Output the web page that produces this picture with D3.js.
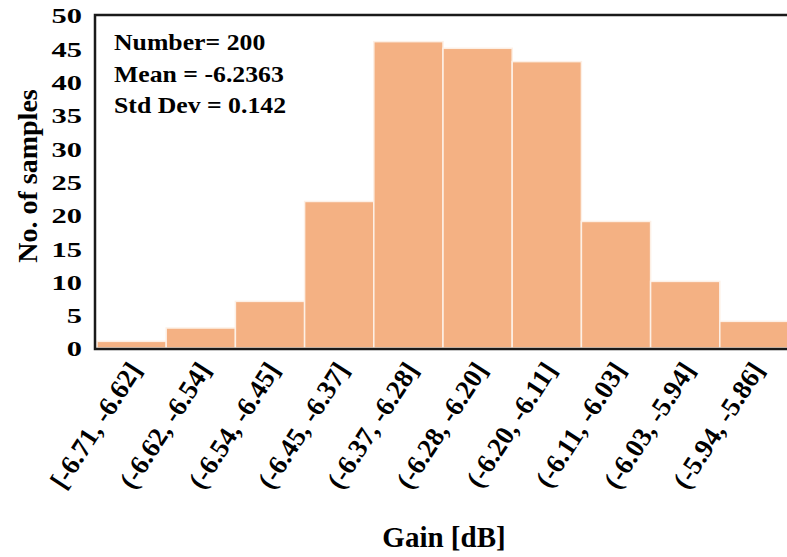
<!DOCTYPE html>
<html>
<head>
<meta charset="utf-8">
<script src="https://cdn.jsdelivr.net/npm/d3@7"></script>
<style>
  body { margin: 0; background: #fff; }
  text { font-family: "Liberation Serif", "Times New Roman", serif; font-weight: bold; fill: #000; }
</style>
</head>
<body>
<div class="chart"></div>
<script>
var bins = ["[-6.71, -6.62]", "(-6.62, -6.54]", "(-6.54, -6.45]", "(-6.45, -6.37]", "(-6.37, -6.28]",
            "(-6.28, -6.20]", "(-6.20, -6.11]", "(-6.11, -6.03]", "(-6.03, -5.94]", "(-5.94, -5.86]"];
var counts = [1, 3, 7, 22, 46, 45, 43, 19, 10, 4];
var yTicks = [0, 5, 10, 15, 20, 25, 30, 35, 40, 45, 50];
var statLines = ["Number= 200", "Mean = -6.2363", "Std Dev = 0.142"];

var svgWidth = 787;
var svgHeight = 557;

var margin = {top: 15, left: 95};
var chartHeight = 333;
var chartWidth = 694;

var svg = d3.select(".chart")
  .append("svg")
  .attr("width", svgWidth)
  .attr("height", svgHeight);

var chart = svg.append("g")
  .attr("transform", `translate(${margin.left}, ${margin.top})`);

var x = d3.scaleBand().domain(bins).range([2, chartWidth]).padding(0);
var y = d3.scaleLinear().domain([0, 50]).range([chartHeight, 0]);

// bars
chart.selectAll("rect.bar")
  .data(counts)
  .enter().append("rect")
    .attr("class", "bar")
    .attr("x", function(d, i) { return x(bins[i]); })
    .attr("y", function(d) { return y(d); })
    .attr("width", x.bandwidth())
    .attr("height", function(d) { return y(0) - y(d); })
    .attr("fill", "#f4b183")
    .attr("stroke", "#fdf0e6")
    .attr("stroke-width", 1.5);

// frame (no right edge, the plot runs off the page)
chart.append("path")
  .attr("d", `M${chartWidth + 10},0 H0 V${chartHeight + 1} H${chartWidth + 10}`)
  .attr("fill", "none")
  .attr("stroke", "#1a1a1a")
  .attr("stroke-width", 2.5);

// y axis - the tick digits are drawn wide in the original
var leftAxis = d3.axisLeft(y).tickValues(yTicks).tickSize(0);
var gy = chart.append("g").call(leftAxis);
gy.select(".domain").remove();
gy.selectAll("text")
  .style("font-size", "21px")
  .style("font-family", "Liberation Serif, serif")
  .style("font-weight", "bold")
  .attr("x", 0)
  .attr("dy", "0.38em")
  .attr("transform", "translate(-13, 0) scale(1.45, 1)");

// x axis labels, rotated
var bottomAxis = d3.axisBottom(x).tickSize(0).tickPadding(0);
var gx = chart.append("g")
  .attr("transform", `translate(0, ${chartHeight})`)
  .call(bottomAxis);
gx.select(".domain").remove();
gx.selectAll("text")
  .style("font-size", "27px")
  .style("font-family", "Liberation Serif, serif")
  .style("font-weight", "bold")
  .attr("text-anchor", "end")
  .attr("dy", null)
  .attr("y", 0)
  .attr("transform", "translate(11, 22) rotate(-57)");

// stats box
chart.append("g").selectAll("text")
  .data(statLines)
  .enter().append("text")
    .attr("transform", function(d, i) { return `translate(19, ${35 + i * 31.5}) scale(1.12, 1)`; })
    .style("font-size", "23px")
    .text(function(d) { return d; });

// axis titles
svg.append("text")
  .attr("transform", "rotate(-90)")
  .attr("x", -176)
  .attr("y", 37)
  .attr("text-anchor", "middle")
  .style("font-size", "28px")
  .text("No. of samples");

svg.append("text")
  .attr("x", 444)
  .attr("y", 547)
  .attr("text-anchor", "middle")
  .style("font-size", "29px")
  .text("Gain [dB]");
</script>
</body>
</html>
